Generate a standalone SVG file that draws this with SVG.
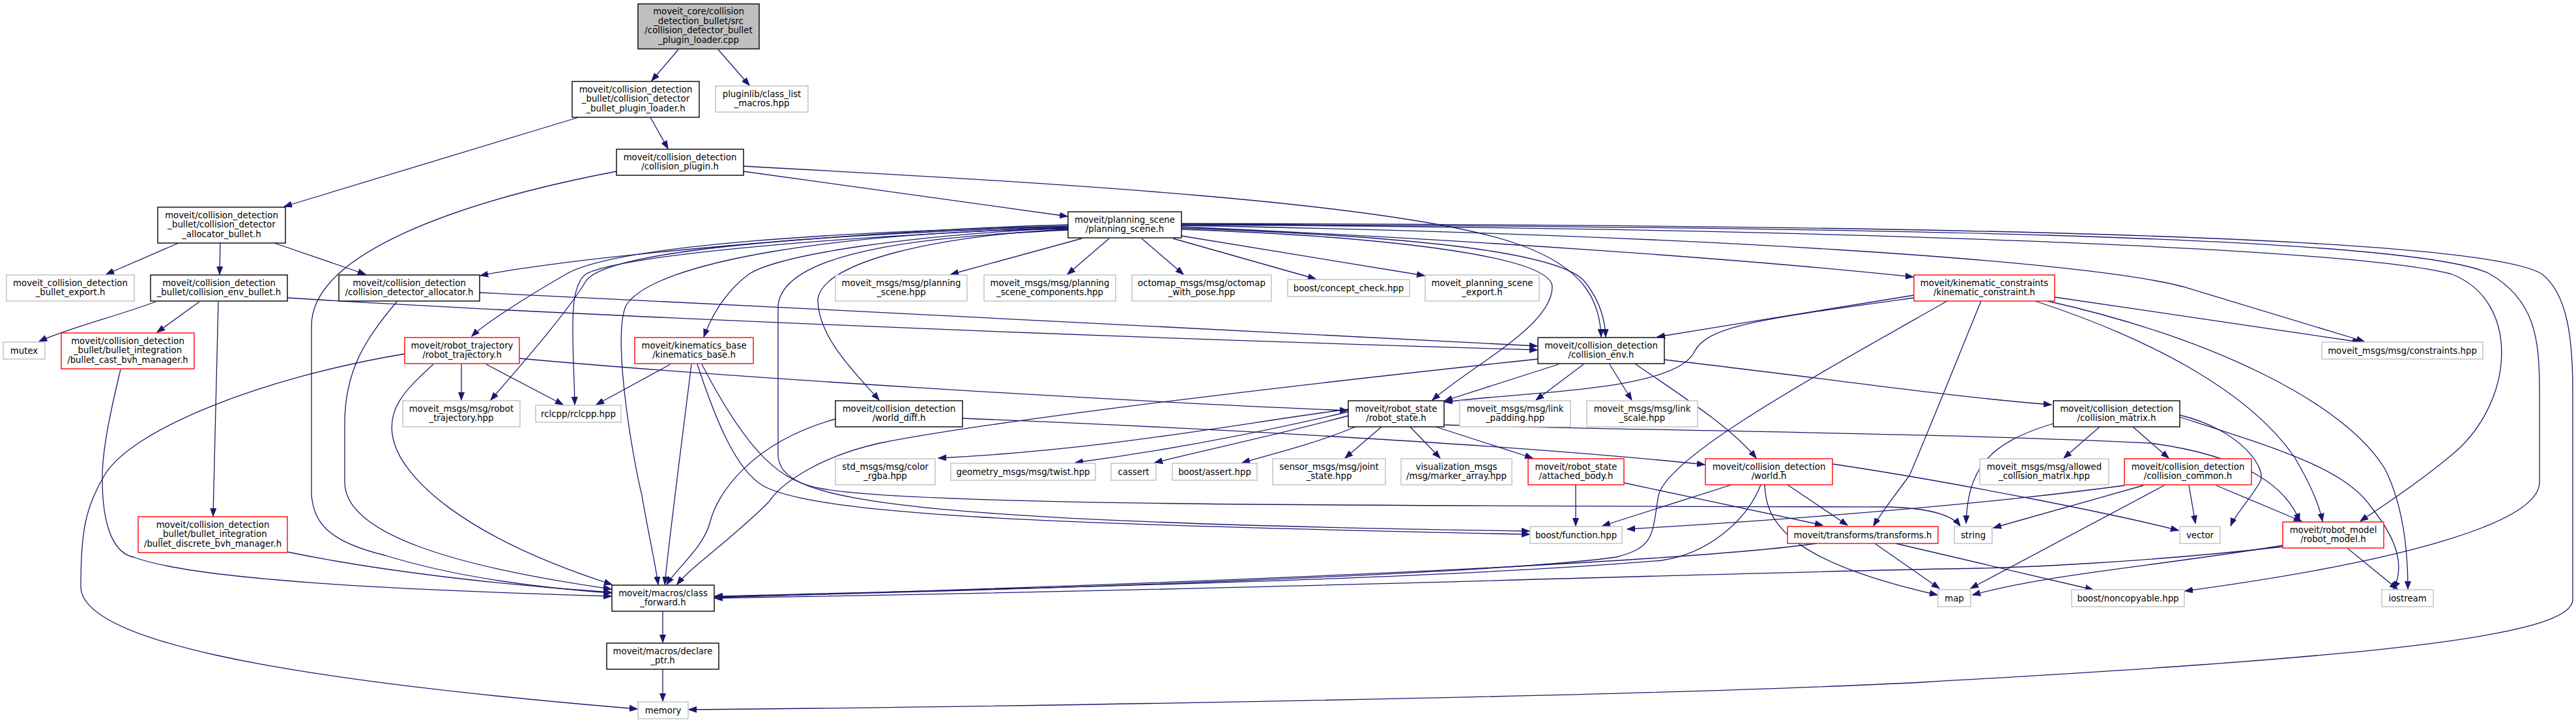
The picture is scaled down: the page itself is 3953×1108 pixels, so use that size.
<svg xmlns="http://www.w3.org/2000/svg" width="3953" height="1108" viewBox="0 0 3953 1108">
<style>
.n rect{fill:#fff;stroke-width:1.4}
.b rect{stroke:#000}
.r rect{stroke:#ff0000}
.g rect{stroke:#bfbfbf}
.root rect{fill:#bfbfbf;stroke:#000}
text{font-family:"DejaVu Sans","Liberation Sans",sans-serif;font-size:13.3px;text-anchor:middle;fill:#000}
#edges path{fill:none;stroke:#191970;stroke-width:1.3;marker-end:url(#a)}
</style>
<defs>
<marker id="a" markerWidth="13" markerHeight="10" refX="12" refY="5" orient="auto" markerUnits="userSpaceOnUse">
<path d="M0,0.5 L12,5 L0,9.5 z" fill="#191970" stroke="#191970" stroke-width="1"/>
</marker>
</defs>
<rect width="3953" height="1108" fill="#fff"/>
<g id="edges">
<path d="M1041,76 L1000,124"/>
<path d="M1102,76 L1150,131"/>
<path d="M998,180 L1025,228"/>
<path d="M888,180 L436,317"/>
<path d="M1141,263 L1638,332"/>
<path d="M1141,255 C1600,280 2150,310 2330,375 C2430,410 2455,460 2457,517"/>
<path d="M946,263 C700,310 478,390 478,500 L478,760 C482,800 500,830 590,852 C680,880 800,900 938,910"/>
<path d="M274,373 L163,421"/>
<path d="M338,373 L337,421"/>
<path d="M421,373 L561,421"/>
<path d="M239,463 C180,485 100,505 60,524"/>
<path d="M306,463 L241,510"/>
<path d="M335,463 L327,792"/>
<path d="M441,457 C800,480 1600,515 2359,537"/>
<path d="M736,449 C1300,475 2000,515 2359,531"/>
<path d="M609,463 C560,520 529,570 529,650 L529,740 C529,820 700,870 938,904"/>
<path d="M185,567 C165,650 156,700 157,740 C158,820 180,850 205,855 C300,890 600,905 938,915"/>
<path d="M441,847 C600,880 800,900 938,909"/>
<path d="M708,559 L708,614"/>
<path d="M746,559 L864,621"/>
<path d="M665,559 C620,600 590,630 605,680 C620,730 700,820 939,897"/>
<path d="M621,543 C400,580 200,660 160,730 C130,780 124,820 124,900 C124,980 400,1040 978,1088"/>
<path d="M797,550 C1100,578 1700,615 2068,630"/>
<path d="M1029,559 L915,621"/>
<path d="M1061,559 C1050,650 1030,800 1020,897"/>
<path d="M1070,559 C1100,650 1130,720 1170,745 C1250,790 1600,805 2347,820"/>
<path d="M1077,559 C1150,700 1200,740 1262,750 C1400,775 2000,776 2900,778 C2960,780 2995,790 3008,807"/>
<path d="M1282,643 C1150,680 1100,760 1090,800 C1080,840 1040,870 1023,897"/>
<path d="M1477,642 C1800,655 2300,680 2616,713"/>
<path d="M1639,345 C1400,350 900,390 737,423"/>
<path d="M1639,347 C1300,355 950,375 870,420 C800,460 740,500 724,516"/>
<path d="M1639,348 C1300,358 940,380 900,430 C870,480 800,560 753,614"/>
<path d="M1639,349 C1300,362 960,390 900,420 C870,440 880,520 882,621"/>
<path d="M1639,350 C1400,360 1200,390 1150,420 C1110,450 1090,490 1080,517"/>
<path d="M1639,351 C1300,355 1000,400 960,470 C940,520 970,700 985,760 C995,820 1005,860 1010,897"/>
<path d="M1639,352 C1450,360 1260,400 1255,460 C1255,520 1320,580 1349,614"/>
<path d="M1639,353 C1450,362 1200,380 1194,470 L1194,700 C1200,760 1300,800 2347,815"/>
<path d="M1660,366 L1459,421"/>
<path d="M1702,366 L1638,421"/>
<path d="M1752,366 L1816,421"/>
<path d="M1800,366 L2019,428"/>
<path d="M1813,362 L2186,423"/>
<path d="M1813,350 C2100,360 2380,380 2430,430 C2455,460 2463,490 2464,517"/>
<path d="M1813,352 C2100,362 2380,390 2382,440 C2382,500 2260,560 2198,614"/>
<path d="M1813,348 C2300,370 2700,400 2936,425"/>
<path d="M1813,346 C2600,360 3200,400 3350,440 C3450,470 3550,500 3628,524"/>
<path d="M1813,345 C2800,350 3600,380 3760,420 C3870,460 3860,620 3760,700 C3700,750 3650,780 3622,800"/>
<path d="M1813,344 C2800,348 3700,360 3820,420 C3890,460 3897,520 3897,600 L3897,740 C3897,800 3700,860 3353,907"/>
<path d="M1813,343 C2900,345 3800,360 3900,420 C3940,450 3948,520 3948,600 L3948,920 C3948,980 3600,1010 2950,1047 C2500,1070 1500,1085 1057,1089"/>
<path d="M2937,453 L2543,517"/>
<path d="M2937,457 C2700,490 2620,500 2600,540 C2570,600 2350,600 2217,617"/>
<path d="M2988,462 C2780,580 2560,700 2545,760 C2535,820 2540,840 2480,855 C2300,880 1600,905 1097,916"/>
<path d="M3040,462 C3000,560 2960,660 2930,730 C2900,770 2885,790 2875,807"/>
<path d="M3153,456 L3622,525"/>
<path d="M3123,462 C3300,520 3450,600 3520,700 C3550,750 3560,780 3564,800"/>
<path d="M3142,462 C3400,520 3600,620 3660,720 C3690,780 3695,850 3695,904"/>
<path d="M2392,559 L2217,615"/>
<path d="M2430,559 L2357,614"/>
<path d="M2470,559 L2504,614"/>
<path d="M2510,559 C2600,620 2660,660 2695,703"/>
<path d="M2554,552 C2800,580 3000,610 3148,621"/>
<path d="M2360,551 C1900,600 1500,650 1350,680 C1260,700 1200,740 1180,770 C1120,830 1060,870 1039,897"/>
<path d="M2069,628 C1900,650 1700,690 1440,703"/>
<path d="M2069,632 C1950,660 1800,690 1650,710"/>
<path d="M2069,638 C1950,670 1850,690 1772,710"/>
<path d="M2080,655 C2020,680 1960,695 1906,710"/>
<path d="M2120,655 L2064,703"/>
<path d="M2164,655 L2210,703"/>
<path d="M2203,655 L2352,703"/>
<path d="M2216,652 C2500,660 3000,665 3300,680 C3450,700 3510,750 3529,800"/>
<path d="M2418,744 L2418,807"/>
<path d="M2492,741 L2797,806"/>
<path d="M2657,744 L2459,807"/>
<path d="M2743,744 L2835,806"/>
<path d="M2708,744 C2710,800 2740,860 2973,913"/>
<path d="M2702,744 C2680,800 2620,850 2550,860 C2200,890 1500,905 1097,915"/>
<path d="M2812,712 C3000,740 3250,790 3343,814"/>
<path d="M3222,655 L3167,703"/>
<path d="M3273,655 L3328,703"/>
<path d="M3151,650 C3050,680 3020,720 3017,803"/>
<path d="M3345,637 C3440,660 3480,720 3468,740 C3450,770 3430,790 3423,807"/>
<path d="M3345,640 C3500,690 3600,720 3640,780 C3680,830 3690,870 3673,904"/>
<path d="M3260,745 C3000,780 2700,800 2497,812"/>
<path d="M3289,745 L3059,810"/>
<path d="M3359,745 L3369,803"/>
<path d="M3401,745 L3532,800"/>
<path d="M3321,745 L3024,903"/>
<path d="M2788,834 C2600,860 2000,890 1097,917"/>
<path d="M2877,834 L2976,903"/>
<path d="M2909,834 L3212,905"/>
<path d="M3503,837 C3300,870 3150,880 3027,913"/>
<path d="M3503,839 C3300,862 3100,872 2986,873 C2600,880 2000,903 1097,918"/>
<path d="M3603,842 L3679,904"/>
<path d="M1017,938 L1017,986"/>
<path d="M1017,1027 L1017,1076"/>
</g>
<g id="root" class="n root"><rect x="979" y="6" width="186" height="69"/><text x="1072" y="21.8">moveit_core/collision</text><text x="1072" y="36.6">_detection_bullet/src</text><text x="1072" y="51.4">/collision_detector_bullet</text><text x="1072" y="66.2">_plugin_loader.cpp</text></g>
<g id="n2" class="n b"><rect x="878" y="125" width="195" height="55"/><text x="975.5" y="141.5">moveit/collision_detection</text><text x="975.5" y="156.2">_bullet/collision_detector</text><text x="975.5" y="170.9">_bullet_plugin_loader.h</text></g>
<g id="n3" class="n g"><rect x="1098" y="132" width="142" height="40"/><text x="1169" y="148.5">pluginlib/class_list</text><text x="1169" y="163.2">_macros.hpp</text></g>
<g id="n4" class="n b"><rect x="946" y="229" width="195" height="40"/><text x="1043.5" y="245.5">moveit/collision_detection</text><text x="1043.5" y="260.2">/collision_plugin.h</text></g>
<g id="n5" class="n b"><rect x="1639" y="325" width="174" height="40"/><text x="1726" y="341.5">moveit/planning_scene</text><text x="1726" y="356.2">/planning_scene.h</text></g>
<g id="n6" class="n b"><rect x="242" y="318" width="196" height="55"/><text x="340" y="334.5">moveit/collision_detection</text><text x="340" y="349.2">_bullet/collision_detector</text><text x="340" y="363.9">_allocator_bullet.h</text></g>
<g id="n7" class="n g"><rect x="10" y="422" width="196" height="40"/><text x="108" y="438.5">moveit_collision_detection</text><text x="108" y="453.2">_bullet_export.h</text></g>
<g id="n8" class="n b"><rect x="231" y="422" width="210" height="40"/><text x="336" y="438.5">moveit/collision_detection</text><text x="336" y="453.2">_bullet/collision_env_bullet.h</text></g>
<g id="n9" class="n b"><rect x="520" y="422" width="216" height="40"/><text x="628" y="438.5">moveit/collision_detection</text><text x="628" y="453.2">/collision_detector_allocator.h</text></g>
<g id="n10" class="n g"><rect x="5" y="525" width="64" height="26"/><text x="37" y="542.5">mutex</text></g>
<g id="n11" class="n r"><rect x="94" y="511" width="204" height="55"/><text x="196" y="527.5">moveit/collision_detection</text><text x="196" y="542.2">_bullet/bullet_integration</text><text x="196" y="556.9">/bullet_cast_bvh_manager.h</text></g>
<g id="n12" class="n r"><rect x="621" y="518" width="176" height="40"/><text x="709" y="534.5">moveit/robot_trajectory</text><text x="709" y="549.2">/robot_trajectory.h</text></g>
<g id="n13" class="n g"><rect x="618" y="615" width="180" height="40"/><text x="708" y="631.5">moveit_msgs/msg/robot</text><text x="708" y="646.2">_trajectory.hpp</text></g>
<g id="n14" class="n g"><rect x="822" y="622" width="131" height="26"/><text x="887.5" y="639.5">rclcpp/rclcpp.hpp</text></g>
<g id="n15" class="n r"><rect x="974" y="518" width="182" height="40"/><text x="1065" y="534.5">moveit/kinematics_base</text><text x="1065" y="549.2">/kinematics_base.h</text></g>
<g id="n16" class="n g"><rect x="1282" y="422" width="202" height="40"/><text x="1383" y="438.5">moveit_msgs/msg/planning</text><text x="1383" y="453.2">_scene.hpp</text></g>
<g id="n17" class="n g"><rect x="1510" y="422" width="202" height="40"/><text x="1611" y="438.5">moveit_msgs/msg/planning</text><text x="1611" y="453.2">_scene_components.hpp</text></g>
<g id="n18" class="n g"><rect x="1737" y="422" width="214" height="40"/><text x="1844" y="438.5">octomap_msgs/msg/octomap</text><text x="1844" y="453.2">_with_pose.hpp</text></g>
<g id="n19" class="n g"><rect x="1976" y="429" width="187" height="26"/><text x="2069.5" y="446.5">boost/concept_check.hpp</text></g>
<g id="n20" class="n b"><rect x="1282" y="615" width="195" height="40"/><text x="1379.5" y="631.5">moveit/collision_detection</text><text x="1379.5" y="646.2">/world_diff.h</text></g>
<g id="n21" class="n g"><rect x="1282" y="704" width="153" height="40"/><text x="1358.5" y="720.5">std_msgs/msg/color</text><text x="1358.5" y="735.2">_rgba.hpp</text></g>
<g id="n22" class="n g"><rect x="1459" y="711" width="222" height="26"/><text x="1570" y="728.5">geometry_msgs/msg/twist.hpp</text></g>
<g id="n23" class="n g"><rect x="1705" y="711" width="69" height="26"/><text x="1739.5" y="728.5">cassert</text></g>
<g id="n24" class="n g"><rect x="1799" y="711" width="130" height="26"/><text x="1864" y="728.5">boost/assert.hpp</text></g>
<g id="n25" class="n g"><rect x="1953" y="704" width="173" height="40"/><text x="2039.5" y="720.5">sensor_msgs/msg/joint</text><text x="2039.5" y="735.2">_state.hpp</text></g>
<g id="n26" class="n g"><rect x="2187" y="422" width="175" height="40"/><text x="2274.5" y="438.5">moveit_planning_scene</text><text x="2274.5" y="453.2">_export.h</text></g>
<g id="n27" class="n r"><rect x="2937" y="422" width="216" height="40"/><text x="3045" y="438.5">moveit/kinematic_constraints</text><text x="3045" y="453.2">/kinematic_constraint.h</text></g>
<g id="n28" class="n b"><rect x="2360" y="518" width="194" height="40"/><text x="2457" y="534.5">moveit/collision_detection</text><text x="2457" y="549.2">/collision_env.h</text></g>
<g id="n29" class="n b"><rect x="2069" y="615" width="147" height="40"/><text x="2142.5" y="631.5">moveit/robot_state</text><text x="2142.5" y="646.2">/robot_state.h</text></g>
<g id="n30" class="n g"><rect x="2240" y="615" width="170" height="40"/><text x="2325" y="631.5">moveit_msgs/msg/link</text><text x="2325" y="646.2">_padding.hpp</text></g>
<g id="n31" class="n g"><rect x="2435" y="615" width="170" height="40"/><text x="2520" y="631.5">moveit_msgs/msg/link</text><text x="2520" y="646.2">_scale.hpp</text></g>
<g id="n32" class="n g"><rect x="2150" y="704" width="170" height="40"/><text x="2235" y="720.5">visualization_msgs</text><text x="2235" y="735.2">/msg/marker_array.hpp</text></g>
<g id="n33" class="n r"><rect x="2345" y="704" width="147" height="40"/><text x="2418.5" y="720.5">moveit/robot_state</text><text x="2418.5" y="735.2">/attached_body.h</text></g>
<g id="n34" class="n r"><rect x="2617" y="704" width="195" height="40"/><text x="2714.5" y="720.5">moveit/collision_detection</text><text x="2714.5" y="735.2">/world.h</text></g>
<g id="n35" class="n g"><rect x="3563" y="525" width="247" height="26"/><text x="3686.5" y="542.5">moveit_msgs/msg/constraints.hpp</text></g>
<g id="n36" class="n b"><rect x="3151" y="615" width="194" height="40"/><text x="3248" y="631.5">moveit/collision_detection</text><text x="3248" y="646.2">/collision_matrix.h</text></g>
<g id="n37" class="n g"><rect x="3038" y="704" width="198" height="40"/><text x="3137" y="720.5">moveit_msgs/msg/allowed</text><text x="3137" y="735.2">_collision_matrix.hpp</text></g>
<g id="n38" class="n r"><rect x="3260" y="704" width="195" height="40"/><text x="3357.5" y="720.5">moveit/collision_detection</text><text x="3357.5" y="735.2">/collision_common.h</text></g>
<g id="n39" class="n r"><rect x="212" y="793" width="229" height="55"/><text x="326.5" y="809.5">moveit/collision_detection</text><text x="326.5" y="824.2">_bullet/bullet_integration</text><text x="326.5" y="838.9">/bullet_discrete_bvh_manager.h</text></g>
<g id="n40" class="n b"><rect x="939" y="898" width="157" height="40"/><text x="1017.5" y="914.5">moveit/macros/class</text><text x="1017.5" y="929.2">_forward.h</text></g>
<g id="n41" class="n b"><rect x="931" y="987" width="172" height="40"/><text x="1017" y="1003.5">moveit/macros/declare</text><text x="1017" y="1018.2">_ptr.h</text></g>
<g id="n42" class="n g"><rect x="979" y="1077" width="77" height="26"/><text x="1017.5" y="1094.5">memory</text></g>
<g id="n43" class="n g"><rect x="2348" y="808" width="141" height="26"/><text x="2418.5" y="825.5">boost/function.hpp</text></g>
<g id="n44" class="n r"><rect x="2743" y="808" width="231" height="26"/><text x="2858.5" y="825.5">moveit/transforms/transforms.h</text></g>
<g id="n45" class="n g"><rect x="2974" y="905" width="50" height="26"/><text x="2999" y="922.5">map</text></g>
<g id="n46" class="n g"><rect x="2999" y="808" width="58" height="26"/><text x="3028" y="825.5">string</text></g>
<g id="n47" class="n g"><rect x="3345" y="808" width="62" height="26"/><text x="3376" y="825.5">vector</text></g>
<g id="n48" class="n r"><rect x="3503" y="801" width="155" height="40"/><text x="3580.5" y="817.5">moveit/robot_model</text><text x="3580.5" y="832.2">/robot_model.h</text></g>
<g id="n49" class="n g"><rect x="3179" y="905" width="173" height="26"/><text x="3265.5" y="922.5">boost/noncopyable.hpp</text></g>
<g id="n50" class="n g"><rect x="3655" y="905" width="79" height="26"/><text x="3694.5" y="922.5">iostream</text></g>
</svg>
